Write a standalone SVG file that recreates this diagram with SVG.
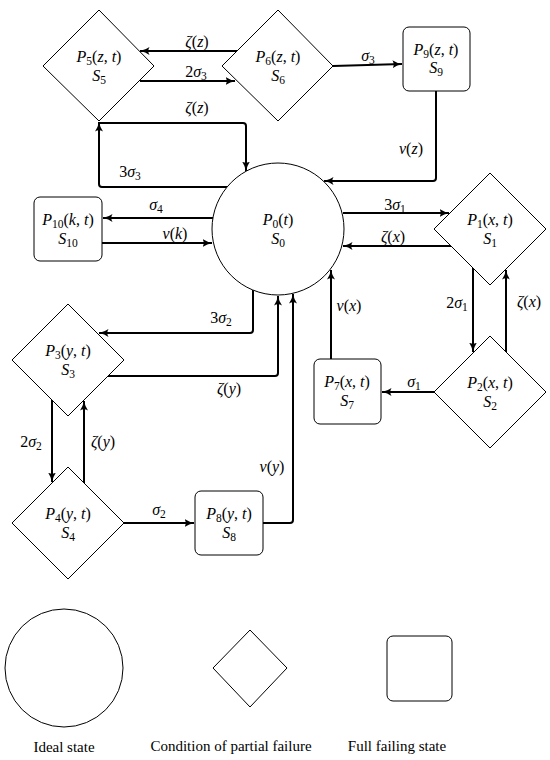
<svg xmlns="http://www.w3.org/2000/svg" width="550" height="760" viewBox="0 0 550 760">
<defs>
<style>
text{font-family:"Liberation Serif","Times New Roman",serif;font-size:16px;fill:#000;text-anchor:middle}
text.lg{font-size:15px}
.i{font-style:italic}
.s{font-size:11.5px;font-style:normal}
.node{fill:#fff;stroke:#000;stroke-width:1}
.leg{fill:none;stroke:#000;stroke-width:1}
.c{fill:none;stroke:#000;stroke-width:2;marker-end:url(#ah)}
</style>
<marker id="ah" viewBox="0 0 10 8" refX="9.5" refY="4" markerWidth="10" markerHeight="8" markerUnits="userSpaceOnUse" orient="auto">
<path d="M0,0 Q4,3 10,4 Q4,5 0,8 Q2.5,4 0,0z" fill="#000"/>
</marker>
</defs>

<g id="connectors">
<path class="c" d="M238,51 L140,51"/>
<path class="c" d="M140,81 L235,81"/>
<path class="c" d="M333,66 L402,64"/>
<path class="c" d="M436,91 L436,178 Q436,181 433,181 L324,181"/>
<path class="c" d="M99,123 L243,123 Q246,123 246,126 L246,171"/>
<path class="c" d="M228,187 L102,187 Q99,187 99,184 L99,122"/>
<path class="c" d="M213,218 L103,218"/>
<path class="c" d="M102,243 L212,243"/>
<path class="c" d="M343,213 L449,213"/>
<path class="c" d="M451,246 L343,246"/>
<path class="c" d="M473,268 L473,352"/>
<path class="c" d="M506,352 L506,270"/>
<path class="c" d="M434,392 L382,392"/>
<path class="c" d="M331,359 L331,270"/>
<path class="c" d="M253,290 L253,330 Q253,333 250,333 L99,333"/>
<path class="c" d="M108,376 L275,376 Q278,376 278,373 L278,296"/>
<path class="c" d="M263,523 L290,523 Q293,523 293,520 L293,294"/>
<path class="c" d="M52,400 L52,482"/>
<path class="c" d="M84,483 L84,401"/>
<path class="c" d="M123,523 L194,523"/>
</g>

<g id="labels">
<text x="197" y="47"><tspan class="i">ζ</tspan>(<tspan class="i">z</tspan>)</text>
<text x="196" y="77">2<tspan class="i">σ</tspan><tspan class="s" dy="3">3</tspan></text>
<text x="368" y="61"><tspan class="i">σ</tspan><tspan class="s" dy="3">3</tspan></text>
<text x="197" y="113"><tspan class="i">ζ</tspan>(<tspan class="i">z</tspan>)</text>
<text x="130" y="177">3<tspan class="i">σ</tspan><tspan class="s" dy="3">3</tspan></text>
<text x="411" y="154"><tspan class="i">ν</tspan>(<tspan class="i">z</tspan>)</text>
<text x="156" y="210"><tspan class="i">σ</tspan><tspan class="s" dy="3">4</tspan></text>
<text x="175" y="239"><tspan class="i">ν</tspan>(<tspan class="i">k</tspan>)</text>
<text x="395" y="210">3<tspan class="i">σ</tspan><tspan class="s" dy="3">1</tspan></text>
<text x="393" y="242"><tspan class="i">ζ</tspan>(<tspan class="i">x</tspan>)</text>
<text x="457" y="308">2<tspan class="i">σ</tspan><tspan class="s" dy="3">1</tspan></text>
<text x="529" y="307"><tspan class="i">ζ</tspan>(<tspan class="i">x</tspan>)</text>
<text x="414" y="387"><tspan class="i">σ</tspan><tspan class="s" dy="3">1</tspan></text>
<text x="349" y="311"><tspan class="i">ν</tspan>(<tspan class="i">x</tspan>)</text>
<text x="221" y="323">3<tspan class="i">σ</tspan><tspan class="s" dy="3">2</tspan></text>
<text x="229" y="394"><tspan class="i">ζ</tspan>(<tspan class="i">y</tspan>)</text>
<text x="31" y="447">2<tspan class="i">σ</tspan><tspan class="s" dy="3">2</tspan></text>
<text x="103" y="447"><tspan class="i">ζ</tspan>(<tspan class="i">y</tspan>)</text>
<text x="272" y="472"><tspan class="i">ν</tspan>(<tspan class="i">y</tspan>)</text>
<text x="159" y="515"><tspan class="i">σ</tspan><tspan class="s" dy="3">2</tspan></text>
</g>

<g id="S0">
<circle class="node" cx="278" cy="229" r="66"/>
<text x="278" y="225"><tspan class="i">P</tspan><tspan class="s" dy="3">0</tspan><tspan dy="-3">(</tspan><tspan class="i">t</tspan>)</text>
<text x="278" y="244"><tspan class="i">S</tspan><tspan class="s" dy="3">0</tspan></text>
</g>

<g id="S5">
<path class="node" d="M99,10 L154,66 L99,121 L43,66 Z"/>
<text x="99" y="62"><tspan class="i">P</tspan><tspan class="s" dy="3">5</tspan><tspan dy="-3">(</tspan><tspan class="i">z</tspan>, <tspan class="i">t</tspan>)</text>
<text x="99" y="81"><tspan class="i">S</tspan><tspan class="s" dy="3">5</tspan></text>
</g>

<g id="S6">
<path class="node" d="M278,10 L333,66 L278,121 L222,66 Z"/>
<text x="278" y="62"><tspan class="i">P</tspan><tspan class="s" dy="3">6</tspan><tspan dy="-3">(</tspan><tspan class="i">z</tspan>, <tspan class="i">t</tspan>)</text>
<text x="278" y="81"><tspan class="i">S</tspan><tspan class="s" dy="3">6</tspan></text>
</g>

<g id="S9">
<rect class="node" x="403" y="27" width="67" height="64" rx="6"/>
<text x="436" y="55"><tspan class="i">P</tspan><tspan class="s" dy="3">9</tspan><tspan dy="-3">(</tspan><tspan class="i">z</tspan>, <tspan class="i">t</tspan>)</text>
<text x="436" y="73"><tspan class="i">S</tspan><tspan class="s" dy="3">9</tspan></text>
</g>

<g id="S10">
<rect class="node" x="34" y="197" width="68" height="64" rx="6"/>
<text x="68" y="225"><tspan class="i">P</tspan><tspan class="s" dy="3">10</tspan><tspan dy="-3">(</tspan><tspan class="i">k</tspan>, <tspan class="i">t</tspan>)</text>
<text x="68" y="244"><tspan class="i">S</tspan><tspan class="s" dy="3">10</tspan></text>
</g>

<g id="S1">
<path class="node" d="M490,173 L546,229 L490,285 L434,229 Z"/>
<text x="490" y="225"><tspan class="i">P</tspan><tspan class="s" dy="3">1</tspan><tspan dy="-3">(</tspan><tspan class="i">x</tspan>, <tspan class="i">t</tspan>)</text>
<text x="490" y="244"><tspan class="i">S</tspan><tspan class="s" dy="3">1</tspan></text>
</g>

<g id="S2">
<path class="node" d="M490,336 L546,392 L490,448 L434,392 Z"/>
<text x="490" y="388"><tspan class="i">P</tspan><tspan class="s" dy="3">2</tspan><tspan dy="-3">(</tspan><tspan class="i">x</tspan>, <tspan class="i">t</tspan>)</text>
<text x="490" y="407"><tspan class="i">S</tspan><tspan class="s" dy="3">2</tspan></text>
</g>

<g id="S7">
<rect class="node" x="314" y="359" width="67" height="65" rx="6"/>
<text x="347" y="387"><tspan class="i">P</tspan><tspan class="s" dy="3">7</tspan><tspan dy="-3">(</tspan><tspan class="i">x</tspan>, <tspan class="i">t</tspan>)</text>
<text x="347" y="406"><tspan class="i">S</tspan><tspan class="s" dy="3">7</tspan></text>
</g>

<g id="S3">
<path class="node" d="M68,304 L124,360 L68,416 L12,360 Z"/>
<text x="68" y="356"><tspan class="i">P</tspan><tspan class="s" dy="3">3</tspan><tspan dy="-3">(</tspan><tspan class="i">y</tspan>, <tspan class="i">t</tspan>)</text>
<text x="68" y="375"><tspan class="i">S</tspan><tspan class="s" dy="3">3</tspan></text>
</g>

<g id="S4">
<path class="node" d="M68,467 L124,523 L68,579 L12,523 Z"/>
<text x="68" y="519"><tspan class="i">P</tspan><tspan class="s" dy="3">4</tspan><tspan dy="-3">(</tspan><tspan class="i">y</tspan>, <tspan class="i">t</tspan>)</text>
<text x="68" y="538"><tspan class="i">S</tspan><tspan class="s" dy="3">4</tspan></text>
</g>

<g id="S8">
<rect class="node" x="195" y="491" width="68" height="64" rx="6"/>
<text x="229" y="519"><tspan class="i">P</tspan><tspan class="s" dy="3">8</tspan><tspan dy="-3">(</tspan><tspan class="i">y</tspan>, <tspan class="i">t</tspan>)</text>
<text x="229" y="538"><tspan class="i">S</tspan><tspan class="s" dy="3">8</tspan></text>
</g>

<g id="legend">
<circle class="leg" cx="64" cy="668" r="59"/>
<path class="leg" d="M250,630 L287,668 L250,707 L213,668 Z"/>
<rect class="leg" x="387" y="636" width="65" height="65" rx="6"/>
<text class="lg" x="64" y="752">Ideal state</text>
<text class="lg" x="231" y="751">Condition of partial failure</text>
<text class="lg" x="397" y="751">Full failing state</text>
</g>
</svg>
